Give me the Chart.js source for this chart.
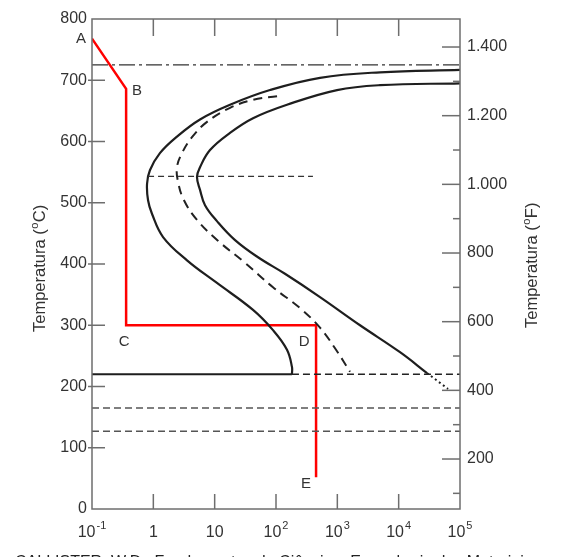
<!DOCTYPE html>
<html>
<head>
<meta charset="utf-8">
<script src="https://cdn.jsdelivr.net/npm/chart.js@4.4.1/dist/chart.umd.min.js"></script>
<style>
html, body { margin: 0; padding: 0; background: #fff; overflow: hidden; }
</style>
</head>
<body>
<canvas id="ttt" width="568" height="557"></canvas>
<script>
// time in seconds, temperature in C
const startTime = [100000, 4966, 522, 79.8, 17.8, 5.77, 2.43, 1.28, 0.88, 0.79, 0.82, 0.95, 1.44, 3.54, 10.9, 42.2, 89.3, 151, 182, 182];
const startTemp = [717, 713, 704, 684, 660, 636, 608, 581, 553, 531, 504, 482, 444, 406, 369, 325, 292, 260, 232, 220];

const halfTime = [104, 42.2, 17.8, 7.5, 4.27, 2.93, 2.43, 2.53, 3.16, 5.15, 11.3, 31.2, 89.3, 246, 522, 952, 1611];
const halfTemp = [674, 668, 655, 632, 607, 581, 558, 534, 504, 472, 438, 402, 362, 328, 296, 260, 224];

const endTime = [100000, 4966, 989, 151, 42.2, 17.8, 8.4, 5.77, 5.15, 5.77, 6.96, 10.9, 21.5, 50.9, 140, 522, 2344, 10520, 28970];
const endTemp = [695, 692, 684, 660, 638, 614, 586, 558, 542, 521, 496, 470, 439, 411, 384, 346, 300, 256, 222];
const endTailTime = [28970, 63800];
const endTailTemp = [222, 196];

const eutectoid = 725;
const noseLine = { from: 0.82, to: 400, temp: 543 };
const msTemp = 220;
const msBreak = 182;
const m50Temp = 165;
const m90Temp = 127;

const pathTime = [0.1, 0.36, 0.36, 450, 450];
const pathTemp = [768, 686, 300, 300, 52];
const pathNames = ['A', 'B', 'C', 'D', 'E'];
const nameOffset = [[-11, 0], [11, 2], [-2, 17], [-12, 17], [-10, 7]];

const decades = [0.1, 1, 10, 100, 1000, 10000, 100000];
const decadeLabels = [['10', '-1'], ['1', ''], ['10', ''], ['10', '2'], ['10', '3'], ['10', '4'], ['10', '5']];
const cTicks = [100, 200, 300, 400, 500, 600, 700];
const fMajor = [200, 400, 600, 800, 1000, 1200, 1400];
const fMinor = [100, 300, 500, 700, 900, 1100, 1300];

const FONT = '"Liberation Sans", Arial, sans-serif';

function pts(xs, ys) {
    return xs.map((x, i) => ({ x: x, y: ys[i] }));
}
function hline(t0, t1, temp) {
    return [{ x: t0, y: temp }, { x: t1, y: temp }];
}
function fmtF(v) {
    if (v >= 1000) return Math.floor(v / 1000) + '.' + String(v % 1000).padStart(3, '0');
    return String(v);
}

// draws rotated title with superscript o
function sideTitle(ctx, x, yStart, unit) {
    ctx.save();
    ctx.translate(x, yStart);
    ctx.rotate(-Math.PI / 2);
    ctx.fillStyle = '#333';
    ctx.textBaseline = 'alphabetic';
    ctx.textAlign = 'left';
    ctx.font = '16.5px ' + FONT;
    let pos = 0;
    const a = 'Temperatura (';
    ctx.fillText(a, pos, 0);
    pos += ctx.measureText(a).width;
    ctx.font = '11px ' + FONT;
    ctx.fillText('o', pos + 0.5, -7);
    pos += ctx.measureText('o').width + 1;
    ctx.font = '16.5px ' + FONT;
    ctx.fillText(unit + ')', pos, 0);
    ctx.restore();
}

const decor = {
    id: 'decor',
    afterDraw(chart) {
        const ctx = chart.ctx;
        const a = chart.chartArea;
        const x = chart.scales.x, y = chart.scales.y, yF = chart.scales.yF;
        ctx.save();
        ctx.strokeStyle = '#6e6e6e';
        ctx.lineWidth = 1.5;
        ctx.strokeRect(a.left, a.top, a.right - a.left, a.bottom - a.top);

        const pen = (x1, y1, x2, y2) => {
            ctx.beginPath(); ctx.moveTo(x1, y1); ctx.lineTo(x2, y2); ctx.stroke();
        };
        decades.slice(1, -1).forEach(v => {
            const px = x.getPixelForValue(v);
            pen(px, a.bottom, px, a.bottom - 15);
            pen(px, a.top, px, a.top + 17);
        });
        cTicks.forEach(v => {
            const py = y.getPixelForValue(v);
            pen(a.left - 4, py, a.left + 13, py);
        });
        fMajor.forEach(v => {
            const py = yF.getPixelForValue(v);
            pen(a.right - 18, py, a.right, py);
        });
        fMinor.forEach(v => {
            const py = yF.getPixelForValue(v);
            pen(a.right - 7, py, a.right, py);
        });

        // x labels with exponents
        ctx.fillStyle = '#333';
        ctx.textBaseline = 'alphabetic';
        ctx.textAlign = 'left';
        decades.forEach((v, i) => {
            const [base, sup] = decadeLabels[i];
            ctx.font = '16px ' + FONT;
            const wb = ctx.measureText(base).width;
            ctx.font = '11px ' + FONT;
            const ws = sup ? ctx.measureText(sup).width + 1 : 0;
            const left = x.getPixelForValue(v) - (wb + ws) / 2;
            ctx.font = '16px ' + FONT;
            ctx.fillText(base, left, a.bottom + 28);
            if (sup) {
                ctx.font = '11px ' + FONT;
                ctx.fillText(sup, left + wb + 1, a.bottom + 20);
            }
        });

        sideTitle(ctx, 45, 332, 'C');
        sideTitle(ctx, 537, 328, 'F');

        // point names on the cooling path
        ctx.font = '15px ' + FONT;
        ctx.textAlign = 'center';
        ctx.textBaseline = 'middle';
        ctx.fillStyle = '#333';
        pathNames.forEach((n, i) => {
            const px = x.getPixelForValue(pathTime[i]) + nameOffset[i][0];
            const py = y.getPixelForValue(pathTemp[i]) + nameOffset[i][1];
            ctx.fillText(n, px, py);
        });

        ctx.font = '16px ' + FONT;
        ctx.textAlign = 'left';
        ctx.textBaseline = 'alphabetic';
        ctx.fillStyle = '#222';
        ctx.fillText('CALLISTER, W.D., Fundamentos da Ciência e Engenharia dos Materiais', 15, 567);
        ctx.restore();
    }
};

const solid = { borderColor: '#1e1e1e', borderWidth: 2.2, tension: 0.4 };

new Chart(document.getElementById('ttt'), {
    type: 'line',
    data: {
        datasets: [
            { data: hline(0.1, 100000, eutectoid), borderColor: '#333', borderWidth: 1.2, borderDash: [16, 4, 3, 4], tension: 0 },
            { data: hline(noseLine.from, noseLine.to, noseLine.temp), borderColor: '#333', borderWidth: 1.2, borderDash: [6, 4], tension: 0 },
            { data: hline(0.1, msBreak, msTemp), borderColor: '#1e1e1e', borderWidth: 2.2, tension: 0 },
            { data: hline(msBreak, 100000, msTemp), borderColor: '#222', borderWidth: 1.3, borderDash: [7, 4], tension: 0 },
            { data: hline(0.1, 100000, m50Temp), borderColor: '#555', borderWidth: 1.5, borderDash: [7, 4], tension: 0 },
            { data: hline(0.1, 100000, m90Temp), borderColor: '#555', borderWidth: 1.5, borderDash: [7, 4], tension: 0 },
            Object.assign({ data: pts(startTime, startTemp) }, solid),
            Object.assign({ data: pts(endTime, endTemp) }, solid),
            { data: pts(endTailTime, endTailTemp), borderColor: '#1e1e1e', borderWidth: 2, borderDash: [2, 3], tension: 0 },
            { data: pts(halfTime, halfTemp), borderColor: '#222', borderWidth: 2, borderDash: [9, 6], tension: 0.4 },
            { data: pts(pathTime, pathTemp), borderColor: '#ff0000', borderWidth: 2.5, tension: 0 }
        ]
    },
    options: {
        responsive: false,
        animation: false,
        layout: { padding: { top: 19 } },
        elements: { point: { radius: 0 } },
        plugins: { legend: { display: false }, tooltip: { enabled: false } },
        scales: {
            x: {
                type: 'logarithmic', min: 0.1, max: 100000,
                grid: { display: false, drawTicks: false }, border: { display: false },
                ticks: { display: false },
                afterFit(s) { s.height = 48; }
            },
            y: {
                position: 'left', min: 0, max: 800,
                grid: { display: false, drawTicks: false }, border: { display: false },
                ticks: { stepSize: 100, padding: 5, color: '#333', font: { family: FONT, size: 16 } },
                afterFit(s) { s.width = 92; }
            },
            yF: {
                position: 'right', min: 54.4, max: 1481.6,
                grid: { display: false, drawTicks: false }, border: { display: false },
                ticks: { padding: 7, color: '#333', font: { family: FONT, size: 16 }, callback: v => fmtF(v) },
                afterBuildTicks(s) { s.ticks = fMajor.map(v => ({ value: v })); },
                afterFit(s) { s.width = 108; }
            }
        }
    },
    plugins: [decor]
});
</script>
</body>
</html>
